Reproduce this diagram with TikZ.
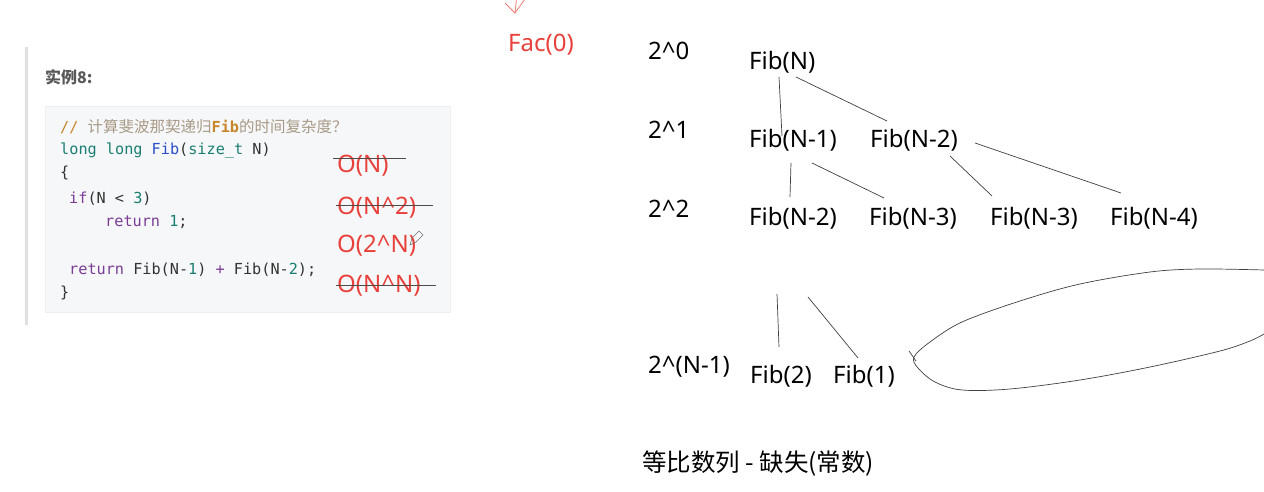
\documentclass[tikz,border=0pt]{standalone}
\usepackage{fontspec}
\setmainfont{Noto Sans}
\setmonofont{DejaVu Sans Mono}
\newfontfamily\cjk{Noto Sans CJK SC}
\usepackage{xcolor}
\usetikzlibrary{calc, arrows.meta}

\definecolor{redpen}{HTML}{E8413B}
\definecolor{codebg}{HTML}{F6F7F9}
\definecolor{codeline}{HTML}{ECEEF1}
\definecolor{kwteal}{HTML}{1A7F72}
\definecolor{kwblue}{HTML}{2D4FC9}
\definecolor{kwpurple}{HTML}{7B3D96}
\definecolor{cmtorange}{HTML}{C8862A}
\definecolor{cmtgray}{HTML}{A89A86}
\definecolor{inkgray}{HTML}{333333}

\begin{document}
\begin{tikzpicture}[
    x=1pt, y=-1pt,
    lbl/.style={anchor=west, inner sep=0pt, text height=22pt, text depth=3pt, font=\fontsize{24}{28}\selectfont},
    code/.style={anchor=west, inner sep=0pt, text height=14pt, text depth=2pt, font=\ttfamily\fontsize{15.2}{18}\selectfont, text=inkgray},
    omark/.style={lbl, text=redpen},
    strike/.style={draw=black!70, line width=0.8pt},
    edge/.style={draw=black!75, line width=0.7pt}
]
\useasboundingbox (0,0) rectangle (1264,492);
\fill[white] (0,0) rectangle (1264,492);

% code panel
\fill[black!12] (25,47) rectangle (28,325);
\node[anchor=west, inner sep=0pt, font=\cjk\bfseries\fontsize{16}{19}\selectfont, text=black!65] (title) at (45,77) {实例8:};
\filldraw[fill=codebg, draw=codeline] (45,106) rectangle (450,312);

\node[code] (cmt) at (60,127) {\textcolor{cmtorange}{//} {\cjk\fontsize{15.5}{18}\selectfont\textcolor{cmtgray}{计算斐波那契递归}}\textcolor{cmtorange}{\bfseries Fib}{\cjk\fontsize{15.5}{18}\selectfont\textcolor{cmtgray}{的时间复杂度？}}};
\node[code] (decl) at (60,149) {\textcolor{kwteal}{long long} \textcolor{kwblue}{Fib}(\textcolor{kwteal}{size\_t} N)};
\node[code] (lbrace) at (60,172) {\{};
\node[code] (ifl) at (69,197) {\textcolor{kwpurple}{if}(N < \textcolor{kwteal}{3})};
\node[code] (ret1) at (105,220) {\textcolor{kwpurple}{return} \textcolor{kwteal}{1};};
\node[code] (ret2) at (69,268) {\textcolor{kwpurple}{return} Fib(N-\textcolor{kwteal}{1}) \textcolor{kwpurple}{+} Fib(N-\textcolor{kwteal}{2});};
\node[code] (rbrace) at (60,291) {\}};

% red notes
\node[omark] (oN) at (337,163) {O(N)};
\node[omark] (oN2) at (337,205) {O(N\^{}2)};
\node[omark] (o2N) at (337,243) {O(2\^{}N)};
\node[omark] (oNN) at (337,283) {O(N\^{}N)};
\draw[strike] ($(oN.west)+(-4,-5)$) -- ($(oN.west)+(69,-5)$);
\draw[strike] ($(oN2.west)+(-1,0)$) -- ($(oN2.west)+(96,0)$);
\draw[strike] ($(oNN.west)+(-1,2)$) -- ($(oNN.west)+(99,2)$);
\draw[black!55, line width=0.6pt] (410,245) -- (412,238) -- (419,231) -- (423,235) -- (416,242) -- cycle;

\node[omark] (fac) at (508,42) {Fac(0)};
\coordinate (facIn) at (517,-6);
\coordinate (facTip) at (515,13);
\draw[redpen!70, line width=0.8pt] (facIn) -- (facTip);
\draw[redpen!70, line width=0.8pt] ($(facTip)+(-10,-10)$) -- (facTip) -- ($(facTip)+(10,-14)$);

% recursion tree
\node[lbl] (l0) at (648,50) {2\^{}0};
\node[lbl] (l1) at (648,129) {2\^{}1};
\node[lbl] (l2) at (648,208) {2\^{}2};
\node[lbl] (ln) at (648,364) {2\^{}(N-1)};

\node[lbl] (fibN) at (749,60) {Fib(N)};
\node[lbl] (fibA) at (749,138) {Fib(N-1)};
\node[lbl] (fibB) at (870,138) {Fib(N-2)};
\node[lbl] (fibC) at (749,216) {Fib(N-2)};
\node[lbl] (fibD) at (869,216) {Fib(N-3)};
\node[lbl] (fibE) at (990,216) {Fib(N-3)};
\node[lbl] (fibF) at (1110,216) {Fib(N-4)};
\node[lbl] (fib2) at (750,374) {Fib(2)};
\node[lbl] (fib1) at (833,374) {Fib(1)};

\draw[edge] ($(fibN.west)+(30,17)$) -- ($(fibA.west)+(33,-2)$);
\draw[edge] ($(fibN.west)+(47,17)$) -- ($(fibB.west)+(17,-17)$);
\draw[edge] ($(fibA.west)+(42,25)$) -- ($(fibC.west)+(41,-19)$);
\draw[edge] ($(fibA.west)+(63,25)$) -- ($(fibD.west)+(15,-18)$);
\draw[edge] ($(fibB.west)+(80,18)$) -- ($(fibE.west)+(2,-20)$);
\draw[edge] ($(fibB.west)+(105,5)$) -- ($(fibF.west)+(11,-23)$);

\coordinate (gapA) at (777,294);
\coordinate (gapB) at (808,297);
\draw[edge] (gapA) -- ($(fib2.west)+(29,-27)$);
\draw[edge] (gapB) -- ($(fib1.west)+(25,-16)$);

% loop round the rest
\draw[edge] plot[smooth, tension=0.55] coordinates {(1264,270) (1200,269) (1150,272) (1080,284) (1020,301) (962,322) (930,342) (914,357) (918,368) (935,382) (962,390) (1010,389) (1080,380) (1150,367) (1220,351) (1250,341) (1264,334)};
\draw[edge] (909,351) -- (916,361);

\node[lbl, font=\cjk\fontsize{24.5}{28}\selectfont] (sum) at (642,462) {等比数列 - 缺失(常数)};
\end{tikzpicture}
\end{document}
